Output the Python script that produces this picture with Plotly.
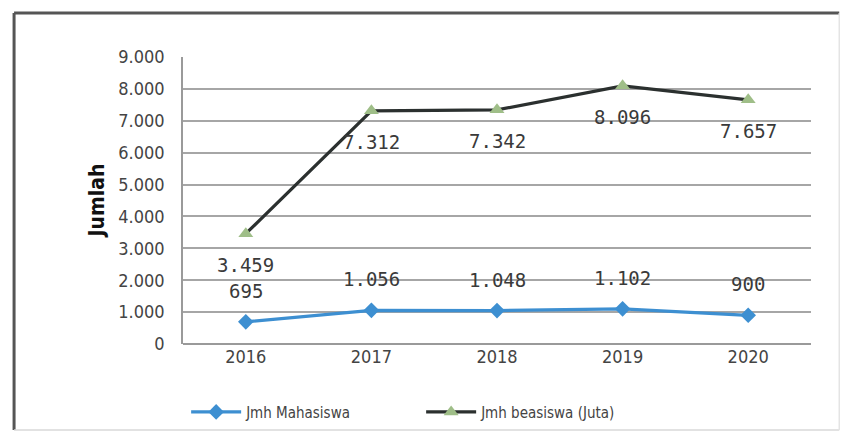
import plotly.graph_objects as go

# Data
years = ["2016", "2017", "2018", "2019", "2020"]
mahasiswa = [695, 1056, 1048, 1102, 900]
beasiswa = [3459, 7312, 7342, 8096, 7657]
series_names = ["Jmh Mahasiswa", "Jmh beasiswa (Juta)"]
y_ticks = [0, 1000, 2000, 3000, 4000, 5000, 6000, 7000, 8000, 9000]


def fmt(v):
    return f"{v:,}".replace(",", ".")


NARROW = "Liberation Sans Narrow, DejaVu Sans Condensed, Arial Narrow, sans-serif"
MONO = "DejaVu Sans Mono, monospace"

fig = go.Figure()

fig.add_trace(go.Scatter(
    x=years, y=mahasiswa, name=series_names[0], mode="lines+markers",
    line=dict(color="#3d8fd1", width=3.2),
    marker=dict(symbol="diamond", size=12, color="#3d8fd1"),
))
fig.add_trace(go.Scatter(
    x=years, y=beasiswa, name=series_names[1], mode="lines+markers",
    line=dict(color="#2b302f", width=3.2),
    marker=dict(symbol="triangle-up", size=13, color="#9fbe88"),
))

annotations = []
# value labels: category index used as the x position on the category axis
for i, v in enumerate(beasiswa):
    annotations.append(dict(x=i, y=v, xref="x", yref="y", text=fmt(v), showarrow=False,
                            yshift=-31, font=dict(family=MONO, size=19, color="#3a3a3a")))
for i, v in enumerate(mahasiswa):
    annotations.append(dict(x=i, y=v, xref="x", yref="y", text=fmt(v), showarrow=False,
                            yshift=31, font=dict(family=MONO, size=19, color="#3a3a3a")))

annotations.append(dict(
    xref="paper", yref="paper", x=-0.137, y=0.5, xanchor="center", yanchor="middle",
    text="<b>Jumlah</b>", textangle=-90, showarrow=False,
    font=dict(family=NARROW, size=21, color="#111111"),
))

shapes = [
    # frame around the chart
    dict(type="line", xref="paper", yref="paper", x0=-0.269, x1=1.045, y0=1.153, y1=1.153,
         line=dict(color="#555555", width=3)),
    dict(type="line", xref="paper", yref="paper", x0=-0.269, x1=-0.269, y0=-0.30, y1=1.153,
         line=dict(color="#555555", width=3)),
    dict(type="line", xref="paper", yref="paper", x0=-0.269, x1=1.045, y0=-0.30, y1=-0.30,
         line=dict(color="#d8d8d8", width=1.5)),
    dict(type="line", xref="paper", yref="paper", x0=1.045, x1=1.045, y0=-0.30, y1=1.153,
         line=dict(color="#e4e4e4", width=1.5)),
]

fig.update_layout(
    width=842, height=432,
    margin=dict(l=183, r=31, t=57, b=88, autoexpand=False),
    paper_bgcolor="white", plot_bgcolor="white",
    separators=",.",
    showlegend=True,
    legend=dict(orientation="h", x=0.005, y=-0.18, xanchor="left", yanchor="top",
                font=dict(family=NARROW, size=15, color="#444444"),
                itemwidth=50, entrywidth=170, entrywidthmode="pixels",
                bgcolor="rgba(0,0,0,0)"),
    annotations=annotations,
    shapes=shapes,
    xaxis=dict(type="category", range=[-0.5, 4.5], showgrid=False,
               showline=False, ticks="", tickfont=dict(family=NARROW, size=18, color="#444444")),
    yaxis=dict(range=[0, 9000], tickvals=y_ticks, tickformat=",d",
               showgrid=True, gridcolor="#a6a6a6", gridwidth=1.5,
               showline=True, linecolor="#9a9a9a", linewidth=1.5,
               zeroline=True, zerolinecolor="#9a9a9a", zerolinewidth=1.5,
               ticks="", ticklabelstandoff=13,
               tickfont=dict(family=NARROW, size=18, color="#444444")),
)

fig.write_html("out.html")
